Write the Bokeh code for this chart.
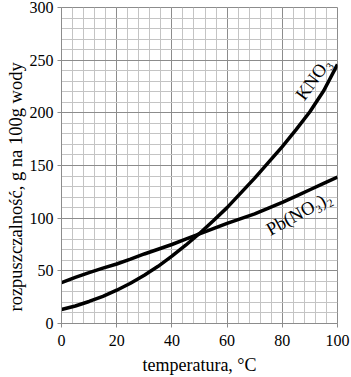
from bokeh.plotting import figure
from bokeh.models import Range1d, SingleIntervalTicker, ColumnDataSource, Title
from bokeh.core.properties import value
from bokeh.embed import file_html
from bokeh.resources import INLINE

temps = [0, 5, 10, 15, 20, 25, 30, 35, 40, 45, 50, 55, 60, 65, 70, 75, 80, 85, 90, 95, 100]
kno3 = [13.3, 16.6, 20.9, 25.8, 31.6, 38.2, 45.8, 54.3, 63.9, 74.3, 85.5, 97.5, 110, 124, 138, 153, 168, 184, 201, 221, 246]
pbno32 = [38.8, 43.8, 48.3, 52.5, 56.5, 61.2, 66, 70.5, 75, 80, 85, 90, 95, 99.5, 104, 109.5, 115, 121, 127, 133, 139]

label_names = ["KNO₃", "Pb(NO₃)₂"]
label_x = [91.2, 86]
label_y = [232, 104.5]
label_angle = [54, 29]

x_title = "temperatura, °C"
y_title = "rozpuszczalność, g na 100g wody"

FONT = "Liberation Serif"

p = figure(width=351, height=377, output_backend="svg", toolbar_location=None,
           x_range=Range1d(0, 100), y_range=Range1d(0, 300),
           min_border_left=61, min_border_right=14, min_border_top=7, min_border_bottom=54)

xt = SingleIntervalTicker(interval=20, num_minor_ticks=5)
yt = SingleIntervalTicker(interval=50, num_minor_ticks=5)
p.xaxis.ticker = xt
p.yaxis.ticker = yt
p.xgrid.ticker = xt
p.ygrid.ticker = yt

for g in (p.xgrid, p.ygrid):
    g.grid_line_color = "#8c8c8c"
    g.grid_line_width = 1
    g.minor_grid_line_color = "#c4c4c4"
    g.minor_grid_line_width = 1

p.outline_line_color = "#8c8c8c"
p.background_fill_color = "white"
p.border_fill_color = "white"

for ax in (p.xaxis, p.yaxis):
    ax.axis_line_color = "#8c8c8c"
    ax.major_tick_line_color = "#8c8c8c"
    ax.major_tick_in = 0
    ax.major_tick_out = 4
    ax.minor_tick_line_color = None
    ax.major_label_text_font = FONT
    ax.major_label_text_font_size = "16px"
    ax.major_label_text_color = "black"
    ax.axis_label_text_font = FONT
    ax.axis_label_text_font_size = "18px"
    ax.axis_label_text_font_style = "normal"
    ax.axis_label_text_color = "black"

p.xaxis.axis_label = x_title
p.xaxis.major_label_standoff = 7
p.yaxis.major_label_standoff = 4
p.xaxis.axis_label_standoff = 6

ytitle = Title(text=y_title, align="left", offset=12, standoff=2,
               text_font=FONT, text_font_size="18.5px", text_font_style="normal",
               text_color="black")
p.add_layout(ytitle, "left")

p.line(temps, kno3, line_color="black", line_width=3.5)
p.line(temps, pbno32, line_color="black", line_width=3.5)

src = ColumnDataSource(dict(x=label_x, y=label_y, t=label_names, a=label_angle))
p.text(x="x", y="y", text="t", angle="a", angle_units="deg", source=src,
       text_font=value(FONT), text_font_size="18.5px", text_color="black",
       text_align="center", text_baseline="middle")

open("out.html", "w").write(file_html(p, INLINE))
